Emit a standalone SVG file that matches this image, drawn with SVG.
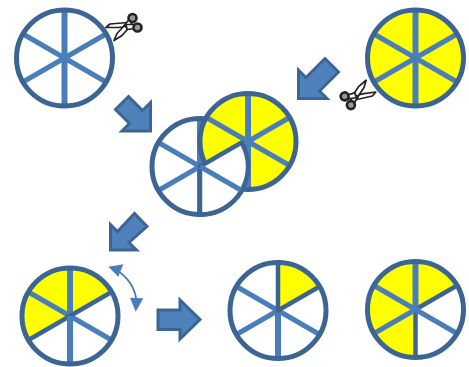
<svg xmlns="http://www.w3.org/2000/svg" xmlns:xlink="http://www.w3.org/1999/xlink" width="469" height="367" viewBox="0 0 469 367">
<style>
.rim{fill:none;stroke:#3c6594;stroke-width:5}
.base{fill:#fff}
.y{fill:#ff0}
.sp{stroke:#4a7ebb;fill:none}
.v{stroke-width:6}
.d{stroke-width:5}
.edge{stroke:#3c6594;stroke-width:4.5;stroke-linejoin:round}
.arrow{fill:#4f81bd;stroke:#3c6594;stroke-width:3;stroke-linejoin:miter}
.ring{fill:#999;stroke:#222;stroke-width:2.6}
.blade{fill:#fff;stroke:#222;stroke-width:1.7;stroke-linejoin:round}
.curve{fill:none;stroke:#4a7ebb;stroke-width:1.8}
.head{fill:#4a7ebb}
</style>
<defs>
<path id="st" d="M0 0V-47A47 47 0 0 1 40.7 -23.5Z"/>
<path id="sl" d="M0 0L-40.7 23.5A47 47 0 0 1 -40.7 -23.5Z"/>
<path id="sll" d="M0 0V47A47 47 0 0 1 -40.7 23.5Z"/>
<path id="stl" d="M0 0L-40.7 -23.5A47 47 0 0 1 0 -47Z"/>
<g id="scissors">
<path class="blade" d="M-18 0L-14 -3.5L4 -5L6 -1L-6 0Z"/>
<path class="blade" d="M-10 13L-7 6L0 -1.5L6 -1L-2 8Z"/>
<path class="blade" d="M0 -2L6 -9L9 -6L4 1Z"/>
<path class="blade" d="M2 -3L10 -3L11 1L3 2Z"/>
<circle class="ring" cx="8.5" cy="-9.5" r="4"/>
<circle class="ring" cx="13.5" cy="0" r="4"/>
</g>
</defs>
<g id="connectors">
<path class="arrow" d="M128.5 96.5L142.5 110.5L150.5 102.5V131H122L129.5 123.5L115.5 109.5Z"/>
<path class="arrow" d="M298.5 70V98.5H327L319.5 91L338.5 72L325 58.5L306 77.5Z"/>
<path class="arrow" d="M110.5 224.5V250H136.5L129 242.5L147 226.5L134.5 213.5L117.5 231.5Z"/>
<path class="arrow" d="M158 310H180V300L200 319.5L180 339V329.5H158Z"/>
<path class="curve" d="M118 271C128 278 135 287 136.5 301"/>
<path class="head" d="M108.3 266.7L123.3 264.3L118.3 276.7Z"/>
<path class="head" d="M130 297.7L143.3 298.3L135.7 311.7Z"/>
</g>
<g id="wheel-plain" transform="translate(64.5,58)">
<circle class="base" r="48"/>
<path class="sp v" d="M0 -47V47"/>
<path class="sp d" d="M-40.7 -23.5L40.7 23.5M-40.7 23.5L40.7 -23.5"/>
<circle class="rim" r="48"/>
</g>
<use xlink:href="#scissors" href="#scissors" id="scissors-left" transform="translate(124,27.5)"/>
<g id="wheel-yellow" transform="translate(415.5,58)">
<circle class="y" r="48"/>
<path class="sp v" d="M0 -47V47"/>
<path class="sp d" d="M-40.7 -23.5L40.7 23.5M-40.7 23.5L40.7 -23.5"/>
<circle class="rim" r="48"/>
</g>
<use xlink:href="#scissors" href="#scissors" id="scissors-right" transform="translate(358,94.5) rotate(172)"/>
<g id="wheel-overlap">
<g transform="translate(200,166.5)">
<circle class="base" r="48"/>
<path class="sp v" d="M0 -47V0"/>
<path class="sp d" d="M-40.7 -23.5L0 0L-40.7 23.5"/>
<path class="sp v" d="M0 0V47"/>
<circle class="rim" r="48"/>
</g>
<g transform="translate(248,141.5)">
<circle class="y" r="48"/>
<path class="sp v" d="M0 -47V47"/>
<path class="sp d" d="M-40.7 -23.5L40.7 23.5M-40.7 23.5L40.7 -23.5"/>
<circle class="rim" r="48"/>
</g>
<g transform="translate(200,166.5)">
<path class="base edge" d="M0 0L41.6 -24A48 48 0 0 1 0 48Z"/>
<path class="sp d" d="M0 0L40.7 23.5"/>
</g>
</g>
<g id="wheel-three" transform="translate(70,316)">
<circle class="base" r="48"/>
<use class="y" href="#st" xlink:href="#st"/>
<use class="y" href="#stl" xlink:href="#stl"/>
<use class="y" href="#sl" xlink:href="#sl"/>
<path class="sp v" d="M0 -47V47"/>
<path class="sp d" d="M-40.7 -23.5L40.7 23.5"/>
<path class="edge" fill="none" d="M-40.7 23.5L40.7 -23.5"/>
<path class="sp v" d="M0 0V47"/>
<circle class="rim" r="48"/>
</g>
<g id="wheel-one" transform="translate(278,310.5)">
<circle class="base" r="48"/>
<use class="y" href="#st" xlink:href="#st"/>
<path class="sp v" d="M0 0V47"/>
<path class="sp d" d="M-40.7 -23.5L40.7 23.5M-40.7 23.5L0 0"/>
<path class="edge" fill="none" d="M0 -47V0L40.7 -23.5"/>
<circle class="rim" r="48"/>
</g>
<g id="wheel-four" transform="translate(415.5,309.5)">
<circle class="base" r="48"/>
<use class="y" href="#st" xlink:href="#st"/>
<use class="y" href="#stl" xlink:href="#stl"/>
<use class="y" href="#sl" xlink:href="#sl"/>
<use class="y" href="#sll" xlink:href="#sll"/>
<path class="edge" fill="none" d="M40.7 -23.5L0 0V47"/>
<path class="sp v" d="M0 -47V0"/>
<path class="sp d" d="M-40.7 -23.5L40.7 23.5M-40.7 23.5L0 0"/>
<circle class="rim" r="48"/>
</g>
</svg>
